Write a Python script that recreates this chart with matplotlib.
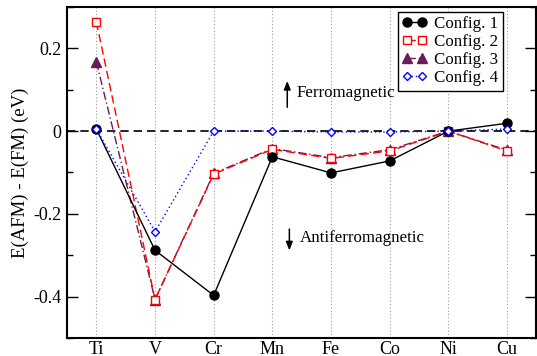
import matplotlib
matplotlib.use("Agg")
import matplotlib.pyplot as plt
from matplotlib.ticker import MultipleLocator, FixedLocator

plt.rcParams['font.family'] = ['Liberation Serif', 'DejaVu Serif']

elements = ['Ti', 'V', 'Cr', 'Mn', 'Fe', 'Co', 'Ni', 'Cu']
config1 = [0.005, -0.288, -0.397, -0.062, -0.101, -0.072, 0.0, 0.019]
config2 = [0.264, -0.407, -0.104, -0.044, -0.066, -0.048, 0.0, -0.048]
config3 = [0.167, -0.407, -0.102, -0.042, -0.064, -0.045, 0.0, -0.046]
config4 = [0.005, -0.243, 0.0, 0.0, -0.002, -0.002, 0.0, 0.005]

x = list(range(len(elements)))

fig = plt.figure(figsize=(5.37, 3.56), dpi=100)
ax = fig.add_axes([0.1248, 0.0506, 0.874, 0.9297])

for xi in x:
    ax.axvline(xi, color='#999999', linestyle=(0, (1, 2)), linewidth=0.8, zorder=0)
ax.axhline(0, color='black', linestyle=(0, (5, 3)), linewidth=1.2, zorder=1)

ax.plot(x, config1, color='black', linestyle='-', linewidth=1.0,
        marker='o', markersize=6.5, label='Config. 1', zorder=5)
ax.plot(x, config2, color='red', linestyle=(0, (6, 3)), linewidth=1.0,
        marker='s', markersize=5.5, markerfacecolor='white', markeredgecolor='red',
        markeredgewidth=1.0, label='Config. 2', zorder=4)
ax.plot(x, config3, color='#6b1a5a', linestyle=(0, (6, 2, 1, 2)), linewidth=1.0,
        marker='^', markersize=6.5, markerfacecolor='#6b1a5a', label='Config. 3', zorder=3)
ax.plot(x, config4, color='blue', linestyle=(0, (1, 2)), linewidth=1.0,
        marker='D', markersize=4.5, markerfacecolor='white', markeredgecolor='blue',
        markeredgewidth=1.0, label='Config. 4', zorder=6)

ax.set_xlim(-0.5, 7.5)
ax.set_ylim(-0.5, 0.3)
ax.set_xticks(x)
ax.set_xticklabels(elements)
ax.yaxis.set_major_locator(FixedLocator([-0.4, -0.2, 0, 0.2]))
ax.set_yticklabels(['-0.4', '-0.2', '0', '0.2'])
ax.yaxis.set_minor_locator(MultipleLocator(0.1))
ax.tick_params(axis='x', length=0, labelsize=13, pad=2)
ax.tick_params(axis='y', which='major', direction='in', length=8, width=1.0,
               right=True, labelsize=13, pad=4)
ax.tick_params(axis='y', which='minor', direction='in', length=4, width=1.0, right=True)
for s in ax.spines.values():
    s.set_linewidth(1.5)

ax.set_ylabel('E(AFM) - E(FM) (eV)', fontsize=13.5, labelpad=3)

# arrows + labels between Mn and Fe
ax.annotate('', xy=(3.254, 0.128), xytext=(3.254, 0.051),
            arrowprops=dict(arrowstyle='-|>,head_width=0.2,head_length=0.5',
                            color='black', lw=1.1))
ax.text(3.41, 0.092, 'Ferromagnetic', fontsize=12.2, va='center')
ax.annotate('', xy=(3.29, -0.295), xytext=(3.29, -0.230),
            arrowprops=dict(arrowstyle='-|>,head_width=0.2,head_length=0.5',
                            color='black', lw=1.1))
ax.text(3.46, -0.259, 'Antiferromagnetic', fontsize=12.2, va='center')

leg = ax.legend(loc='upper right', bbox_to_anchor=(0.928, 0.985), fontsize=12.2,
                numpoints=2, handlelength=1.5, handletextpad=0.4,
                borderpad=0.25, labelspacing=0.12, borderaxespad=0,
                fancybox=False, framealpha=1)
leg.get_frame().set_edgecolor('black')
leg.get_frame().set_linewidth(1.0)

fig.savefig('out.png', dpi=100)
